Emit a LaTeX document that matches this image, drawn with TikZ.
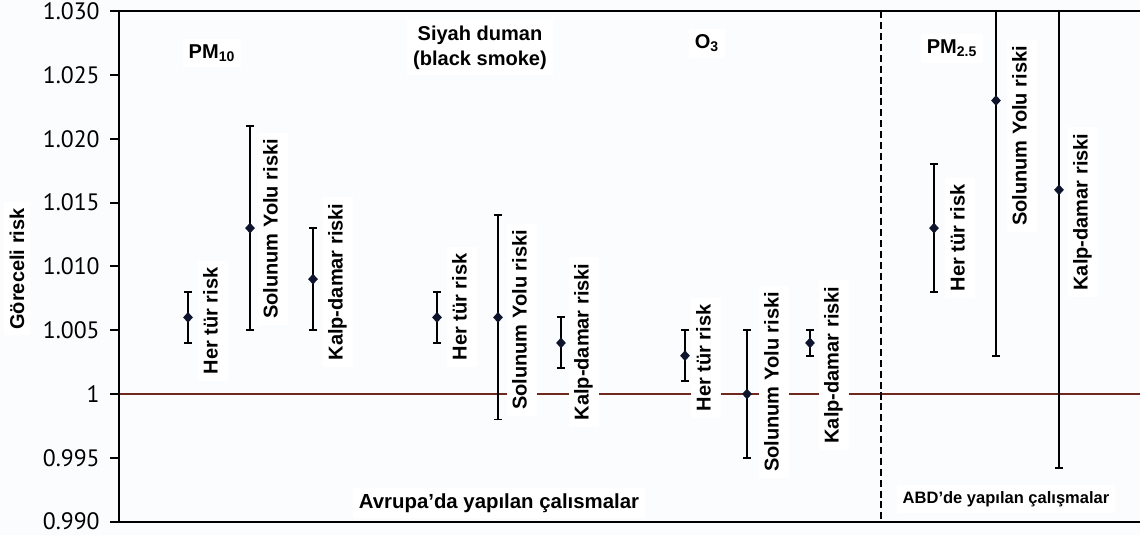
\documentclass[tikz,border=0pt]{standalone}
\usepackage{fontspec}
\setmainfont{Liberation Sans}
\newfontfamily\tickfont{PT Sans}
\usetikzlibrary{shapes.geometric, positioning}

\definecolor{refline}{RGB}{110,40,30}
\definecolor{paperbg}{RGB}{251,252,254}
\definecolor{pointcol}{RGB}{15,20,45}

\begin{document}
\begin{tikzpicture}[
  x=0.02cm, y=0.2552cm,
  frame/.style={draw, line width=1.1pt},
  errbar/.style={draw, line width=1.1pt},
  point/.style={diamond, fill=pointcol, inner sep=0pt, minimum width=0.2cm, minimum height=0.22cm},
  risklabel/.style={rotate=90, fill=white, font=\bfseries\fontsize{11.4}{13}\selectfont, inner xsep=3.5pt, inner ysep=4pt, text height=0.72em, text depth=0.2em},
  grouplabel/.style={fill=white, font=\bfseries\fontsize{11.4}{14.2}\selectfont, align=center},
  ticklabel/.style={font=\tickfont\fontsize{13.5}{15}\selectfont, inner sep=0pt}
]

% Canvas
\useasboundingbox (0,-11.05) rectangle (1140,30.88);
\fill[paperbg] (0,-11.05) rectangle (1140,30.88);

% Corners of the plot area
\coordinate (tl) at (119,30);
\coordinate (tr) at (1140,30);
\coordinate (bl) at (119,-10);
\coordinate (br) at (1140,-10);
\coordinate (one) at (119,0);
\coordinate (oneR) at (1140,0);
\coordinate (splitT) at (881,30);
\coordinate (splitB) at (881,-10);

% Line at risk 1
\draw[refline, line width=1.1pt] (one) -- (oneR);

% Bar labels
\foreach \n/\x/\y/\t in {
  lhA/213/5.72/Her tür risk, lsA/273/12.93/Solunum Yolu riski, lkA/338/8.78/Kalp-damar riski,
  lhB/462/6.82/Her tür risk, lsB/522/5.80/Solunum Yolu riski, lkB/584/4.08/Kalp-damar riski,
  lhC/706/2.82/Her tür risk, lsC/774/0.94/Solunum Yolu riski, lkC/834/2.27/Kalp-damar riski,
  lhD/960/12.23/Her tür risk, lsD/1022/20.22/Solunum Yolu riski, lkD/1083/14.26/Kalp-damar riski}
  \node[risklabel] (\n) at (\x,\y) {\t};

% Error bars
\foreach \n/\x/\lo/\mid/\hi in {
  hA/188/4/6/8, sA/250/5/13/21, kA/313/5/9/13,
  hB/437/4/6/8, sB/498/-2/6/14, kB/561/2/4/6,
  hC/685/1/3/5, sC/747/-5/0/5, kC/810/3/4/5,
  hD/934/8/13/18, sD/996/3/23/30, kD/1059/-5.8/16/30}
{
  \draw[errbar] (\x,\lo) -- (\x,\hi);
  \draw[errbar] ({\x-4},\lo) -- ({\x+4},\lo);
  \draw[errbar] ({\x-4},\hi) -- ({\x+4},\hi);
  \node[point] (\n) at (\x,\mid) {};
}

% Frame
\draw[frame] (tr) -- (tl) -- (bl) -- (br);
\draw[frame, dash pattern=on 4pt off 2.2pt] (splitT) -- (splitB);

% Ticks
\foreach \v/\t in {30/1.030, 25/1.025, 20/1.020, 15/1.015, 10/1.010, 5/1.005, 0/1, -5/0.995, -10/0.990}
{
  \coordinate (tk\v) at (110,\v);
  \draw[line width=1.1pt] (tk\v) -- (119,\v);
  \node[ticklabel, left=0.2cm of tk\v] {\t};
}

% Group titles
\node[grouplabel] (pmten) at (212,26.72) {PM\textsubscript{10}};
\node[grouplabel] (smoke) at (480,27.15) {Siyah duman\\(black smoke)};
\node[grouplabel] (ozone) at (707,27.5) {O\textsubscript{3}};
\node[grouplabel] (pmfine) at (952,27.1) {PM\textsubscript{2.5}};

% Axis and region captions
\node[grouplabel, rotate=90] (ylab) at (17,9.80) {Göreceli risk};
\node[grouplabel, font=\bfseries\fontsize{11.6}{14}\selectfont] (europe) at (499,-8.54) {Avrupa’da yapılan çalısmalar};
\node[grouplabel, font=\bfseries\fontsize{9.4}{12}\selectfont] (usa) at (1006,-8.23) {ABD’de yapılan çalışmalar};

\end{tikzpicture}
\end{document}
